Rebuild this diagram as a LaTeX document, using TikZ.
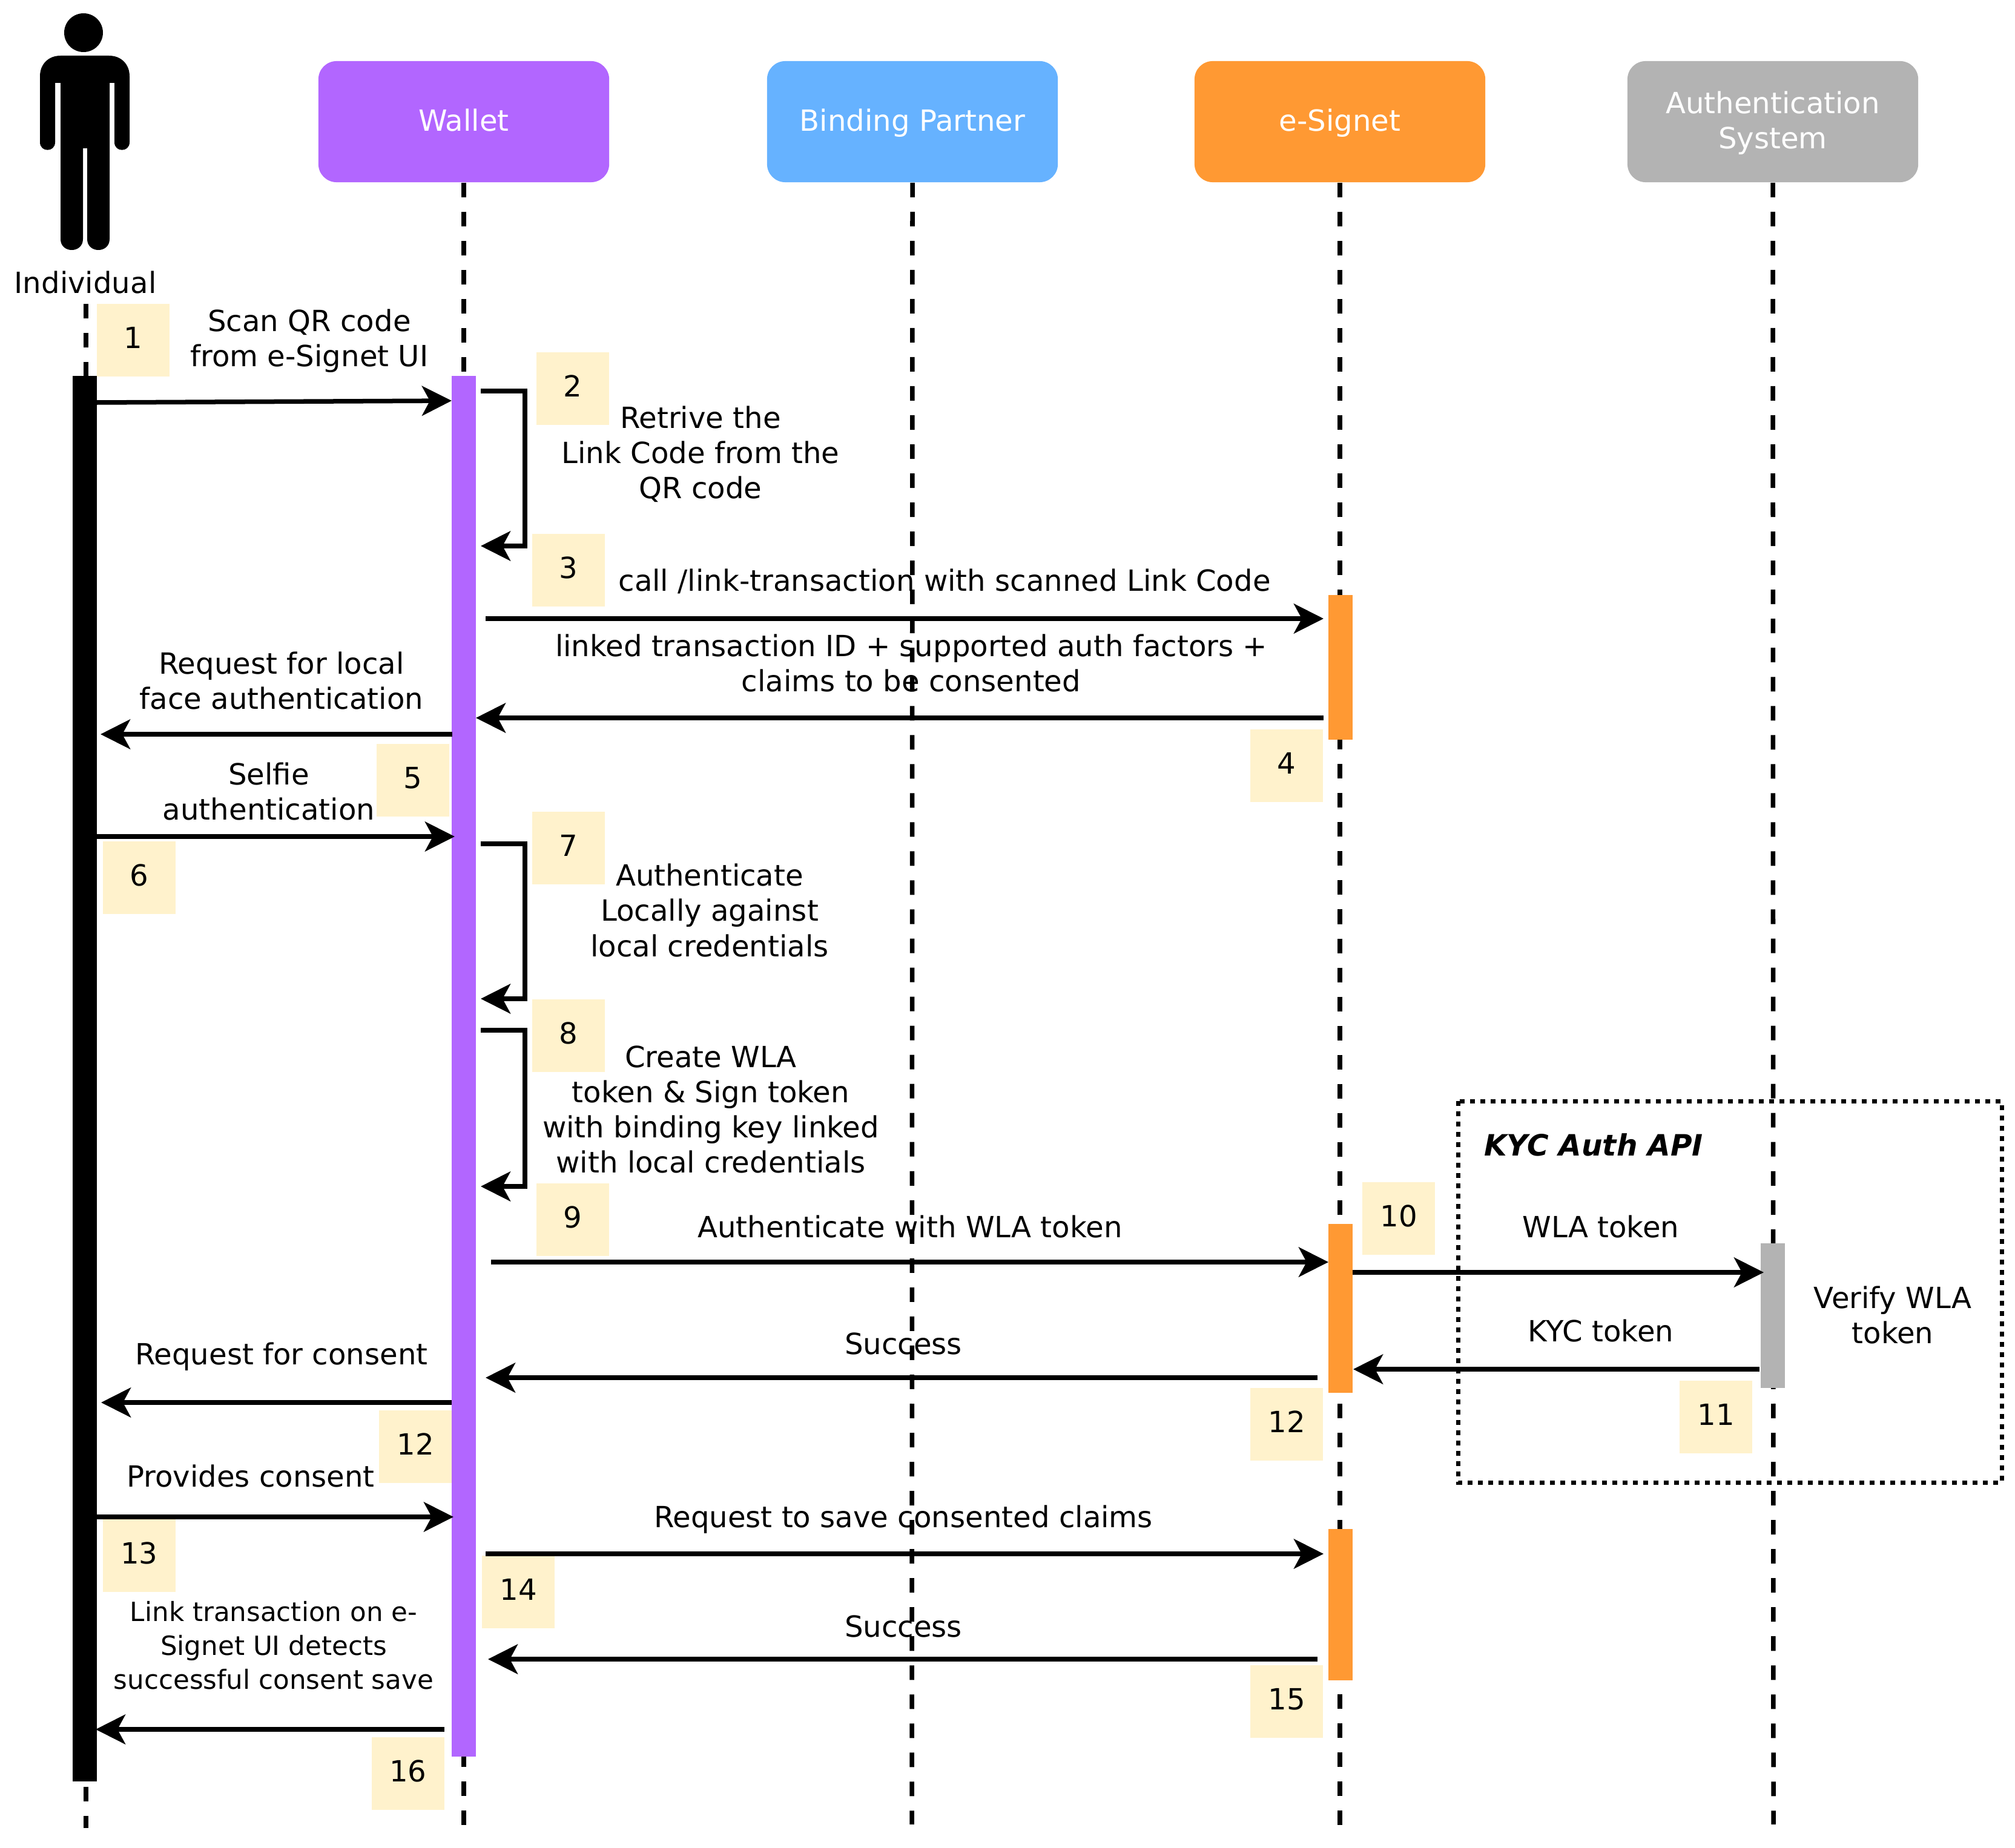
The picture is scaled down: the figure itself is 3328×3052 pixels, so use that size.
\documentclass[tikz,border=0pt]{standalone}
\usepackage{fontspec}
\setmainfont{DejaVu Sans}
\usetikzlibrary{arrows.meta}
\definecolor{walletc}{HTML}{B266FF}
\definecolor{bindc}{HTML}{66B2FF}
\definecolor{signetc}{HTML}{FF9933}
\definecolor{authc}{HTML}{B3B3B3}
\definecolor{stickyc}{HTML}{FFF2CC}
\tikzset{
	lbl/.style={font=\fontsize{13.7}{16.5}\selectfont, align=center, inner sep=0pt},
	smalllbl/.style={font=\fontsize{12.4}{16}\selectfont, align=center, inner sep=0pt},
	party/.style={lbl, rounded corners=0.3cm, minimum width=4.8cm, minimum height=2cm, text=white, text depth=0.05cm},
	sticky/.style={lbl, fill=stickyc, minimum size=1.2cm, text depth=0.08cm},
	actbar/.style={inner sep=0pt, minimum width=0.4cm},
	lifeline/.style={line width=0.075cm, dash pattern=on 0.24cm off 0.24cm},
	msg/.style={line width=0.075cm, -{Stealth[length=0.49cm, width=0.49cm, inset=0.13cm]}},
	dotbox/.style={line width=0.07cm, dash pattern=on 0.08cm off 0.09cm}
}

\begin{document}
\begin{tikzpicture}[x=0.01cm, y=-0.01cm]
	\useasboundingbox (0,0) rectangle (3328,3052);
	
	%%%%% PARTIES %%%%%
	
	\fill (138,54) circle (32);
	\fill (100,92) -- (180,92) .. controls (200,92) and (214,106) .. (214,126) -- (214,235)
		.. controls (214,252) and (189,252) .. (189,235) -- (189,137) -- (181,137) -- (181,395)
		.. controls (181,419) and (144,419) .. (144,395) -- (144,245) -- (137,245) -- (137,395)
		.. controls (137,419) and (100,419) .. (100,395) -- (100,137) -- (91,137) -- (91,235)
		.. controls (91,252) and (66,252) .. (66,235) -- (66,126)
		.. controls (66,106) and (80,92) .. (100,92) -- cycle;
	\node[lbl] (individual) at (141,467) {Individual};
	
	\node[party, fill=walletc] (wallet) at (766,201) {Wallet};
	\node[party, fill=bindc] (binding) at (1507,201) {Binding Partner};
	\node[party, fill=signetc] (signet) at (2213,201) {e-Signet};
	\node[party, fill=authc] (auth) at (2928,201) {Authentication\\System};
	
	%%%%% LIFELINES %%%%%
	
	\coordinate (indtop) at (142,502);
	\coordinate (indend) at (142,3020);
	\coordinate (walletend) at (766,3020);
	\coordinate (bindingend) at (1506,3014);
	\coordinate (signetend) at (2213,3020);
	\coordinate (authend) at (2929,3014);
	\draw[lifeline] (indtop) -- (indend);
	\draw[lifeline] (wallet.south) -- (walletend);
	\draw[lifeline] (binding.south) -- (bindingend);
	\draw[lifeline] (signet.south) -- (signetend);
	\draw[lifeline] (auth.south) -- (authend);
	
	\draw[dotbox] (2408,1819) rectangle (3306,2449);
	
	\node[actbar, fill=black, minimum height=23.2cm] (indbar) at (140,1782) {};
	\node[actbar, fill=walletc, minimum height=22.79cm] (walletbar) at (766,1761.5) {};
	\node[actbar, fill=signetc, minimum height=2.39cm] (signetbara) at (2214,1102.5) {};
	\node[actbar, fill=signetc, minimum height=2.79cm] (signetbarb) at (2214,2161.5) {};
	\node[actbar, fill=signetc, minimum height=2.5cm] (signetbarc) at (2214,2651) {};
	\node[actbar, fill=authc, minimum height=2.39cm] (authbar) at (2928,2173.5) {};
	
	%%%%% STICKY NUMBERS %%%%%
	
	\node[sticky] (numa) at (220,562) {1};
	\node[sticky] (numb) at (946,642) {2};
	\node[sticky] (numc) at (939,942) {3};
	\node[sticky] (numd) at (2125,1265) {4};
	\node[sticky] (nume) at (682,1289) {5};
	\node[sticky] (numf) at (230,1450) {6};
	\node[sticky] (numg) at (939,1401) {7};
	\node[sticky] (numh) at (939,1711) {8};
	\node[sticky] (numi) at (946,2015) {9};
	\node[sticky] (numj) at (2310,2013) {10};
	\node[sticky] (numk) at (2834,2341) {11};
	\node[sticky] (numl) at (2125,2353) {12};
	\node[sticky] (numm) at (686,2390) {12};
	\node[sticky] (numn) at (230,2570) {13};
	\node[sticky] (numo) at (856,2630) {14};
	\node[sticky] (nump) at (2125,2811) {15};
	\node[sticky] (numq) at (674,2930) {16};
	
	%%%%% MESSAGES %%%%%
	
	\coordinate (scana) at (160,665);
	\coordinate (scanb) at (746,662);
	\draw[msg] (scana) -- (scanb);
	\node[lbl] (scantxt) at (511,563) {Scan QR code\\from e-Signet UI};
	
	\coordinate (retra) at (794,646);
	\coordinate (retrb) at (794,902);
	\draw[msg] (retra) -- ++(73,0) |- (retrb);
	\node[lbl] (retrtxt) at (1157,750) {Retrive the\\Link Code from the\\QR code};
	
	\coordinate (calla) at (802,1022);
	\coordinate (callb) at (2186,1022);
	\draw[msg] (calla) -- (callb);
	\node[lbl] (calltxt) at (1560,960) {call /link-transaction with scanned Link Code};
	
	\coordinate (linkeda) at (2186,1186);
	\coordinate (linkedb) at (786,1186);
	\draw[msg] (linkeda) -- (linkedb);
	\node[lbl] (linkedtxt) at (1505,1096) {linked transaction ID + supported auth factors +\\claims to be consented};
	
	\coordinate (facea) at (747,1213);
	\coordinate (faceb) at (166,1213);
	\draw[msg] (facea) -- (faceb);
	\node[lbl] (facetxt) at (465,1125) {Request for local\\face authentication};
	
	\coordinate (selfiea) at (160,1382);
	\coordinate (selfieb) at (751,1382);
	\draw[msg] (selfiea) -- (selfieb);
	\node[lbl] (selfietxt) at (444,1308) {Selfie\\authentication};
	
	\coordinate (locala) at (794,1394);
	\coordinate (localb) at (794,1650);
	\draw[msg] (locala) -- ++(73,0) |- (localb);
	\node[lbl] (localtxt) at (1172,1504) {Authenticate\\Locally against\\local credentials};
	
	\coordinate (createa) at (794,1702);
	\coordinate (createb) at (794,1960);
	\draw[msg] (createa) -- ++(73,0) |- (createb);
	\node[lbl] (createtxt) at (1174,1833) {Create WLA\\token \& Sign token\\with binding key linked\\with local credentials};
	
	\coordinate (autha) at (811,2085);
	\coordinate (authb) at (2194,2085);
	\draw[msg] (autha) -- (authb);
	\node[lbl] (authtxt) at (1503,2027) {Authenticate with WLA token};
	
	\coordinate (wlaa) at (2234,2102);
	\coordinate (wlab) at (2913,2102);
	\draw[msg] (wlaa) -- (wlab);
	\node[lbl] (wlatxt) at (2644,2027) {WLA token};
	
	\coordinate (kyca) at (2906,2262);
	\coordinate (kycb) at (2235,2262);
	\draw[msg] (kyca) -- (kycb);
	\node[lbl] (kyctxt) at (2644,2199) {KYC token};
	
	\node[lbl] (verifytxt) at (3126,2173) {Verify WLA\\token};
	\node[lbl, font=\fontsize{13.8}{16.5}\selectfont\bfseries\itshape] (apitxt) at (2632,1891) {KYC Auth API};
	
	\coordinate (succa) at (2176,2276);
	\coordinate (succb) at (802,2276);
	\draw[msg] (succa) -- (succb);
	\node[lbl] (succtxt) at (1492,2220) {Success};
	
	\coordinate (consa) at (746,2317);
	\coordinate (consb) at (167,2317);
	\draw[msg] (consa) -- (consb);
	\node[lbl] (constxt) at (465,2241) {Request for consent};
	
	\coordinate (provida) at (160,2506);
	\coordinate (providb) at (749,2506);
	\draw[msg] (provida) -- (providb);
	\node[lbl] (providtxt) at (414,2439) {Provides consent};
	
	\coordinate (savea) at (802,2567);
	\coordinate (saveb) at (2186,2567);
	\draw[msg] (savea) -- (saveb);
	\node[lbl] (savetxt) at (1492,2510) {Request to save consented claims};
	
	\coordinate (succc) at (2176,2741);
	\coordinate (succd) at (806,2741);
	\draw[msg] (succc) -- (succd);
	\node[lbl] (succbtxt) at (1492,2687) {Success};
	
	\coordinate (donea) at (734,2857);
	\coordinate (doneb) at (158,2857);
	\draw[msg] (donea) -- (doneb);
	\node[smalllbl] (donetxt) at (452,2718) {Link transaction on e-\\Signet UI detects\\successful consent save};
\end{tikzpicture}
\end{document}
